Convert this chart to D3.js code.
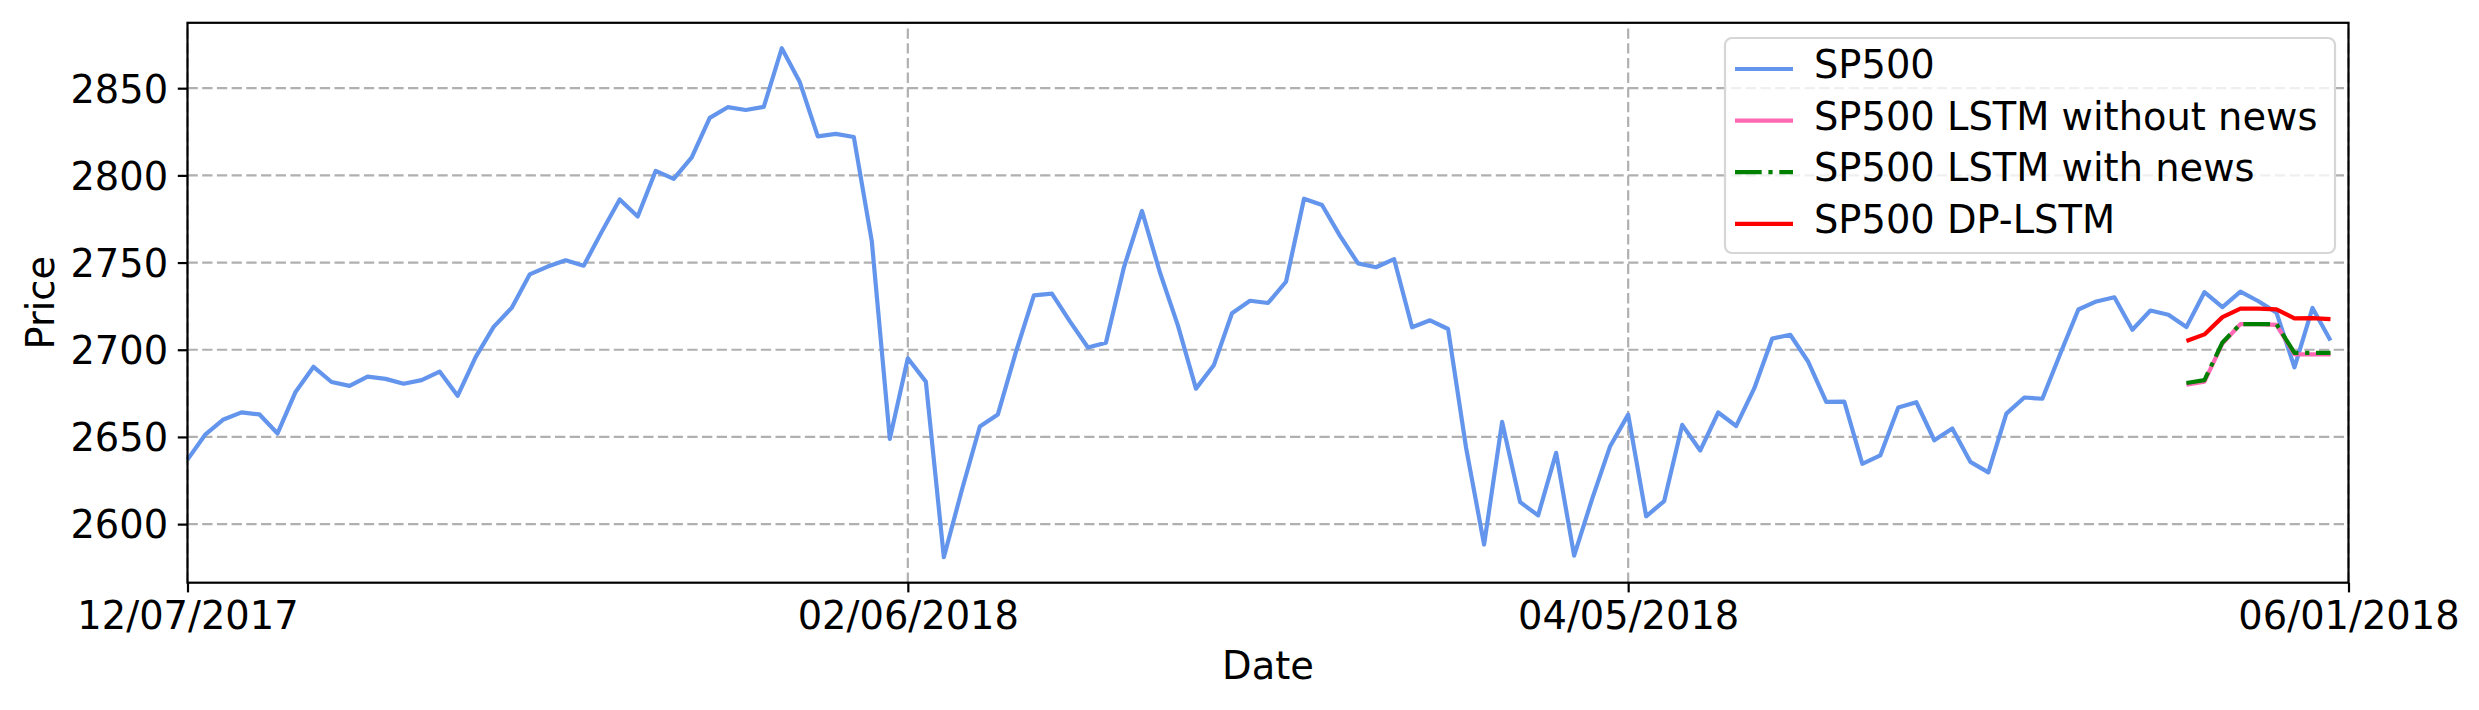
<!DOCTYPE html>
<html>
<head>
<meta charset="utf-8">
<script src="https://cdn.jsdelivr.net/npm/d3@7"></script>
<style>
  html, body { margin: 0; padding: 0; background: #fff; }
  svg { display: block; font-family: "DejaVu Sans", sans-serif; }
</style>
</head>
<body>
<svg id="chart"></svg>
<script>
// x axis is the trading-day index, labels every 40 sessions
const tickIndex = [0, 40, 80, 120];
const tickLabels = ['12/07/2017', '02/06/2018', '04/05/2018', '06/01/2018'];
const yTicks = [2600, 2650, 2700, 2750, 2800, 2850];

// SP500 close, 12/07/2017 .. 05/31/2018
const sp500 = [
  2637.0, 2651.5, 2660.0, 2664.1, 2662.9, 2652.0, 2675.8, 2690.2, 2681.5, 2679.3,
  2684.6, 2683.3, 2680.5, 2682.6, 2687.5, 2673.6, 2695.8, 2713.1, 2724.0, 2743.2,
  2747.7, 2751.3, 2748.2, 2767.6, 2786.2, 2776.4, 2802.6, 2798.0, 2810.3, 2833.0,
  2839.1, 2837.5, 2839.3, 2872.9, 2853.5, 2822.4, 2823.8, 2822.0, 2762.1, 2648.9,
  2695.1, 2681.7, 2581.0, 2619.6, 2656.0, 2662.9, 2698.6, 2731.2, 2732.2, 2716.3,
  2701.3, 2704.0, 2747.3, 2779.6, 2744.3, 2713.8, 2677.7, 2691.3, 2720.9, 2728.1,
  2726.8, 2739.0, 2786.6, 2783.0, 2765.3, 2749.5, 2747.3, 2752.0, 2712.9, 2716.9,
  2711.9, 2643.7, 2588.3, 2658.6, 2612.6, 2605.0, 2640.9, 2581.9, 2614.5, 2644.7,
  2662.8, 2604.5, 2613.2, 2656.9, 2642.2, 2664.0, 2656.3, 2677.8, 2706.4, 2708.6,
  2693.1, 2670.1, 2670.3, 2634.6, 2639.4, 2666.9, 2669.9, 2648.1, 2654.8, 2635.7,
  2629.7, 2663.4, 2672.6, 2671.9, 2697.8, 2723.1, 2727.7, 2730.1, 2711.5, 2722.5,
  2720.1, 2713.0, 2733.0, 2724.4, 2733.3, 2727.8, 2721.3, 2689.9, 2724.0, 2705.3
];

// predictions start at index 111
const predStart = 111;
const lstmNoNews = [2679.9, 2681.7, 2703.6, 2714.7, 2714.7, 2714.3, 2697.4, 2697.4, 2697.4];
const lstmNews   = [2680.9, 2682.6, 2704.2, 2714.7, 2714.7, 2714.7, 2698.2, 2698.2, 2698.2];
const dpLstm     = [2705.0, 2708.8, 2718.7, 2723.6, 2723.6, 2723.2, 2718.0, 2718.1, 2717.6];

const seriesNames = ['SP500', 'SP500 LSTM without news', 'SP500 LSTM with news', 'SP500 DP-LSTM'];

const width = 2479, height = 710;
const margin = {top: 22.8, right: 130.5, bottom: 127.3, left: 187.5};
const fs = 38.4;   // font size px
const lw = 4.2;    // series line width

const series = [
  {name: seriesNames[0], values: sp500, start: 0, color: '#6495ED', dash: null},
  {name: seriesNames[1], values: lstmNoNews, start: predStart, color: '#FF69B4', dash: null},
  {name: seriesNames[2], values: lstmNews, start: predStart, color: '#008000', dash: '26.7,6.7,4.2,6.7'},
  {name: seriesNames[3], values: dpLstm, start: predStart, color: '#FF0000', dash: null}
];

const svg = d3.select('#chart').attr('width', width).attr('height', height);

const x = d3.scaleLinear()
  .domain([tickIndex[0], tickIndex[tickIndex.length - 1]])
  .range([margin.left, width - margin.right]);

// matplotlib style 5% padding around data
const all = sp500.concat(lstmNoNews, lstmNews, dpLstm);
const lo = d3.min(all), hi = d3.max(all), pad = (hi - lo) * 0.05;
const y = d3.scaleLinear()
  .domain([lo - pad, hi + pad])
  .range([height - margin.bottom, margin.top]);

// grid
const grid = svg.append('g')
  .attr('stroke', '#b0b0b0').attr('stroke-width', 2.2).attr('stroke-dasharray', '10.3,4.4');
grid.selectAll('.hg').data(yTicks).enter().append('line')
  .attr('x1', x.range()[0]).attr('x2', x.range()[1])
  .attr('y1', d => y(d)).attr('y2', d => y(d));
grid.selectAll('.vg').data(tickIndex).enter().append('line')
  .attr('x1', d => x(d)).attr('x2', d => x(d))
  .attr('y1', y.range()[0]).attr('y2', y.range()[1]);

// series lines
const line = d3.line()
  .x(d => x(d.i))
  .y(d => y(d.v));

series.forEach(s => {
  const pts = s.values.map((v, k) => ({i: s.start + k, v: v}));
  svg.append('path')
    .datum(pts)
    .attr('d', line)
    .attr('fill', 'none')
    .attr('stroke', s.color)
    .attr('stroke-width', lw)
    .attr('stroke-linejoin', 'round')
    .attr('stroke-dasharray', s.dash);
});

// axes
const xAxis = svg.append('g')
  .attr('transform', `translate(0,${height - margin.bottom})`)
  .call(d3.axisBottom(x).tickValues(tickIndex).tickFormat((d, k) => tickLabels[k])
    .tickSize(9.7).tickSizeOuter(0).tickPadding(9.7));
const yAxis = svg.append('g')
  .attr('transform', `translate(${margin.left},0)`)
  .call(d3.axisLeft(y).tickValues(yTicks).tickFormat(d3.format('d'))
    .tickSize(9.7).tickSizeOuter(0).tickPadding(9.7));

[xAxis, yAxis].forEach(a => {
  a.select('.domain').remove();
  a.selectAll('.tick line').attr('stroke', '#000').attr('stroke-width', 2.2);
  a.selectAll('.tick text')
    .attr('font-family', '"DejaVu Sans", sans-serif')
    .attr('font-size', fs).attr('fill', '#000');
});
yAxis.selectAll('.tick text').attr('dy', '0.36em');

// frame
svg.append('rect')
  .attr('x', x.range()[0]).attr('y', y.range()[1])
  .attr('width', x.range()[1] - x.range()[0])
  .attr('height', y.range()[0] - y.range()[1])
  .attr('fill', 'none').attr('stroke', '#000').attr('stroke-width', 2.2);

// axis titles
svg.append('text')
  .attr('x', (x.range()[0] + x.range()[1]) / 2).attr('y', 679)
  .attr('text-anchor', 'middle').attr('font-size', fs)
  .text('Date');
svg.append('text')
  .attr('transform', `translate(54,${(y.range()[0] + y.range()[1]) / 2}) rotate(-90)`)
  .attr('text-anchor', 'middle').attr('font-size', fs)
  .text('Price');

// legend
const legend = svg.append('g').attr('transform', 'translate(1725,38)');
legend.append('rect')
  .attr('width', 610).attr('height', 215).attr('rx', 7)
  .attr('fill', 'rgba(255,255,255,0.8)')
  .attr('stroke', '#d6d6d6').attr('stroke-width', 2.2);
const rows = legend.selectAll('.row').data(series).enter().append('g')
  .attr('transform', (d, k) => `translate(0,${31 + k * 51.6})`);
rows.append('line')
  .attr('x1', 10).attr('x2', 68)
  .attr('stroke', d => d.color).attr('stroke-width', lw)
  .attr('stroke-dasharray', d => d.dash);
rows.append('text')
  .attr('x', 89).attr('y', 9).attr('font-size', fs)
  .text(d => d.name);
</script>
</body>
</html>
